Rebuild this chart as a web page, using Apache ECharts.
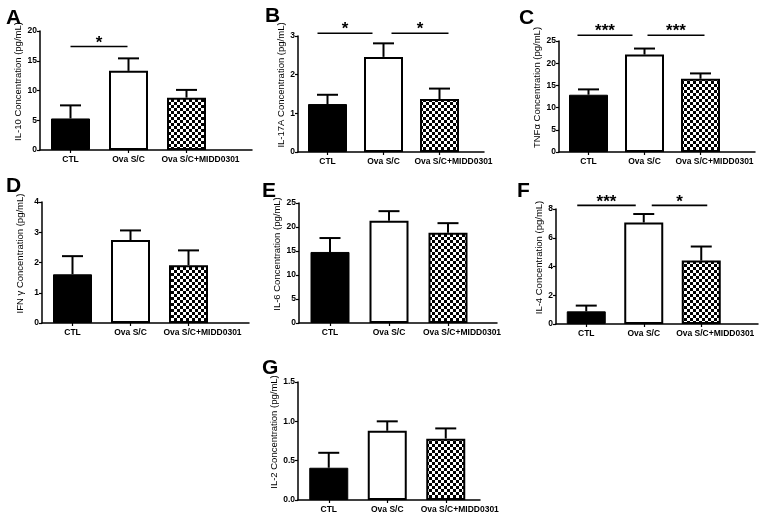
<!DOCTYPE html>
<html><head><meta charset="utf-8">
<script src="https://cdn.jsdelivr.net/npm/echarts@6.0.0/dist/echarts.min.js"></script>
<style>html,body{margin:0;padding:0;background:#fff}#c{width:760px;height:516px}</style>
</head><body><div id="c"></div>
<script>
// ---------- data ----------
const categories = ['CTL', 'Ova S/C', 'Ova S/C+MIDD0301'];

const il10Mean = [5.3, 13.3, 8.8];
const il10Sem = [2.2, 2.1, 1.3];
const il10Ticks = [0, 5, 10, 15, 20];
const il10Sig = [[0, 1, 17.4, '*']];

const il17Mean = [1.24, 2.46, 1.37];
const il17Sem = [0.24, 0.35, 0.27];
const il17Ticks = [0, 1, 2, 3];
const il17Sig = [[0, 1, 3.07, '*'], [1, 2, 3.07, '*']];

const tnfMean = [12.9, 21.95, 16.5];
const tnfSem = [1.2, 1.35, 1.2];
const tnfTicks = [0, 5, 10, 15, 20, 25];
const tnfSig = [[0, 1, 26.3, '***'], [1, 2, 26.3, '***']];

const ifnMean = [1.61, 2.74, 1.91];
const ifnSem = [0.6, 0.32, 0.49];
const ifnTicks = [0, 1, 2, 3, 4];
const ifnSig = [];

const il6Mean = [14.8, 21.3, 18.8];
const il6Sem = [2.9, 2.0, 2.0];
const il6Ticks = [0, 5, 10, 15, 20, 25];
const il6Sig = [];

const il4Mean = [0.88, 7.06, 4.41];
const il4Sem = [0.4, 0.59, 0.98];
const il4Ticks = [0, 2, 4, 6, 8];
const il4Sig = [[0, 1, 8.25, '***'], [1, 2, 8.25, '*']];

const il2Mean = [0.41, 0.88, 0.78];
const il2Sem = [0.19, 0.12, 0.13];
const il2Ticks = [0, 0.5, 1.0, 1.5];
const il2Sig = [];

const panels = [
  { letter: 'A', name: 'IL-10 Concentration (pg/mL)', mean: il10Mean, sem: il10Sem, ticks: il10Ticks, sig: il10Sig, dec: 0 },
  { letter: 'B', name: 'IL-17A Concentration (pg/mL)', mean: il17Mean, sem: il17Sem, ticks: il17Ticks, sig: il17Sig, dec: 0 },
  { letter: 'C', name: 'TNFα Concentration (pg/mL)', mean: tnfMean, sem: tnfSem, ticks: tnfTicks, sig: tnfSig, dec: 0 },
  { letter: 'D', name: 'IFN γ Concentration (pg/mL)', mean: ifnMean, sem: ifnSem, ticks: ifnTicks, sig: ifnSig, dec: 0 },
  { letter: 'E', name: 'IL-6 Concentration (pg/mL)', mean: il6Mean, sem: il6Sem, ticks: il6Ticks, sig: il6Sig, dec: 0 },
  { letter: 'F', name: 'IL-4 Concentration (pg/mL)', mean: il4Mean, sem: il4Sem, ticks: il4Ticks, sig: il4Sig, dec: 0 },
  { letter: 'G', name: 'IL-2 Concentration (pg/mL)', mean: il2Mean, sem: il2Sem, ticks: il2Ticks, sig: il2Sig, dec: 1 }
];

// ---------- layout / style ----------
const layout = {
  A: { ax: 40, top: 31, bottom: 150, end: 252, band: 58, gap: 15, lx: 6, ly: 8, sigOff: [[0, -1]] },
  B: { ax: 298, top: 36, bottom: 152, end: 484, band: 56, gap: 12, lx: 265, ly: 6, sigOff: [[-10, -11], [8, 9]] },
  C: { ax: 559, top: 41, bottom: 152, end: 755, band: 56, gap: 13, lx: 519, ly: 8, sigOff: [[-11, -12], [3, 4]] },
  D: { ax: 42, top: 202, bottom: 323, end: 249, band: 58, gap: 17, lx: 6, ly: 176, sigOff: [] },
  E: { ax: 299, top: 203, bottom: 323, end: 497, band: 59, gap: 11.5, lx: 262, ly: 181, sigOff: [] },
  F: { ax: 556, top: 209, bottom: 324, end: 758, band: 57.5, gap: 11, lx: 517, ly: 181, sigOff: [[-9, -8], [8, 6]] },
  G: { ax: 298, top: 382, bottom: 500, end: 480, band: 58.5, gap: 12, lx: 262, ly: 358, sigOff: [] }
};
const FONT = 'Arial, "Liberation Sans", sans-serif';

function checker() {
  const c = document.createElement('canvas');
  c.width = 6; c.height = 6;
  const g = c.getContext('2d');
  g.fillStyle = '#fff'; g.fillRect(0, 0, 6, 6);
  g.fillStyle = '#000'; g.fillRect(0, 0, 3, 3); g.fillRect(3, 3, 3, 3);
  return c;
}
const pattern = { image: checker(), repeat: 'repeat' };
const barStyles = [
  { color: '#000', borderColor: '#000', borderWidth: 1 },
  { color: '#fff', borderColor: '#000', borderWidth: 2 },
  { color: pattern, borderColor: '#000', borderWidth: 2 }
];

const grids = [], xAxes = [], yAxes = [], series = [], titles = [];

panels.forEach((p, k) => {
  const L = layout[p.letter];
  const gi = k * 2;
  const h = L.bottom - L.top;
  grids.push({ left: L.ax + 1.5, top: L.top, width: L.band * 3, height: h, outerBoundsMode: 'none', containLabel: false });
  grids.push({ left: L.ax, top: L.top, width: L.end - L.ax, height: h, outerBoundsMode: 'none', containLabel: false });

  xAxes.push({
    type: 'category', gridIndex: gi, data: categories,
    axisLine: { show: false },
    axisTick: { show: true, alignWithLabel: true, length: 3, lineStyle: { color: '#000', width: 1.2 } },
    axisLabel: {
      interval: 0, margin: 5, color: '#000', fontFamily: FONT, fontSize: 8.5, fontWeight: 'bold',
      formatter: (v, i) => i === 2 ? '{s|' + v + '}' : v,
      rich: { s: { padding: [0, 0, 0, 28], color: '#000', fontFamily: FONT, fontSize: 8.5, fontWeight: 'bold' } }
    },
    splitLine: { show: false }
  });
  xAxes.push({
    type: 'value', gridIndex: gi + 1, min: 0, max: 1,
    axisLine: { show: true, onZero: false, lineStyle: { color: '#000', width: 1.5 } },
    axisTick: { show: false }, axisLabel: { show: false }, splitLine: { show: false }
  });

  const t = p.ticks;
  yAxes.push({
    type: 'value', gridIndex: gi, min: t[0], max: t[t.length - 1], interval: t[1] - t[0], offset: 1.5,
    name: p.name, nameLocation: 'middle', nameGap: L.gap,
    nameTextStyle: { color: '#000', fontFamily: FONT, fontSize: 9.5, padding: [0, 0, 0, 18] },
    axisLine: { show: true, lineStyle: { color: '#000', width: 1.5 } },
    axisTick: { show: true, length: 3, lineStyle: { color: '#000', width: 1.2 } },
    axisLabel: { color: '#000', fontFamily: FONT, fontSize: 8.5, fontWeight: 'bold', margin: 3,
      formatter: v => v.toFixed(p.dec) },
    splitLine: { show: false }
  });
  yAxes.push({ type: 'value', gridIndex: gi + 1, min: 0, max: 1, show: false });

  series.push({
    type: 'bar', xAxisIndex: gi, yAxisIndex: gi, barWidth: 39, silent: true, animation: false,
    data: p.mean.map((v, i) => ({ value: v, itemStyle: barStyles[i] }))
  });
  series.push({
    type: 'custom', xAxisIndex: gi, yAxisIndex: gi, silent: true, animation: false, z: 5,
    data: p.mean.map((v, i) => [i, v, p.sem[i]]),
    renderItem: (params, api) => {
      const a = api.coord([api.value(0), api.value(1)]);
      const b = api.coord([api.value(0), api.value(1) + api.value(2)]);
      const hw = 10.5;
      return { type: 'group', children: [
        { type: 'line', shape: { x1: a[0], y1: a[1], x2: b[0], y2: b[1] }, style: { stroke: '#000', lineWidth: 2 } },
        { type: 'line', shape: { x1: b[0] - hw, y1: b[1], x2: b[0] + hw, y2: b[1] }, style: { stroke: '#000', lineWidth: 2 } }
      ] };
    }
  });
  if (p.sig.length) {
    series.push({
      type: 'custom', xAxisIndex: gi, yAxisIndex: gi, silent: true, animation: false, clip: false, z: 5,
      data: p.sig.map(s => [s[0], s[1], s[2]]),
      renderItem: (params, api) => {
        const idx = params.dataIndex;
        const off = L.sigOff[idx] || [0, 0];
        const a = api.coord([api.value(0), api.value(2)]);
        const b = api.coord([api.value(1), api.value(2)]);
        const x1 = a[0] + off[0], x2 = b[0] + off[1];
        return { type: 'group', children: [
          { type: 'line', shape: { x1: x1, y1: a[1], x2: x2, y2: a[1] }, style: { stroke: '#000', lineWidth: 1.6 } },
          { type: 'text', x: (x1 + x2) / 2, y: a[1] - 3.5, style: { text: p.sig[idx][3], font: 'bold 17px ' + FONT, fill: '#000', align: 'center', verticalAlign: 'middle' } }
        ] };
      }
    });
  }
  titles.push({ text: p.letter, left: L.lx, top: L.ly, padding: 0,
    textStyle: { color: '#000', fontFamily: FONT, fontSize: 21, fontWeight: 'bold' } });
});

const chart = echarts.init(document.getElementById('c'), null, { renderer: 'canvas' });
chart.setOption({
  backgroundColor: '#fff',
  animation: false,
  title: titles,
  grid: grids,
  xAxis: xAxes,
  yAxis: yAxes,
  series: series
});
</script>
</body></html>
